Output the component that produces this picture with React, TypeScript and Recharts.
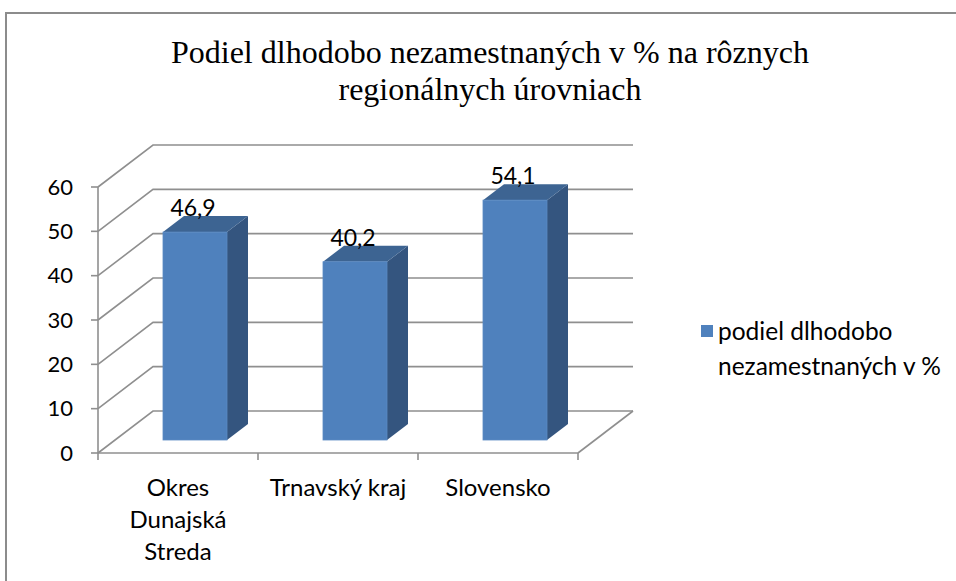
import React from 'react';
import { BarChart, Bar, XAxis, YAxis, CartesianGrid, LabelList, Legend } from 'recharts';

const categories = ['Okres Dunajská Streda', 'Trnavský kraj', 'Slovensko'];
const tickLabelLines = [['Okres', 'Dunajská', 'Streda'], ['Trnavský kraj'], ['Slovensko']];
const values = [46.9, 40.2, 54.1];
const yTicks = [0, 10, 20, 30, 40, 50, 60];
const seriesName = 'podiel dlhodobo nezamestnaných v %';
const titleLines = ['Podiel dlhodobo nezamestnaných v % na rôznych', 'regionálnych úrovniach'];

const data = categories.map((c, i) => ({ name: c, value: values[i] }));

const W = 956;
const H = 581;
const PLOT_LEFT = 98;
const PLOT_RIGHT = 578;
const PLOT_TOP = 187;
const PLOT_BOTTOM = 453;
const Y_AXIS_W = 60;
const X_AXIS_H = 110;

// oblique depth of the wall / floor
const DEPTH_X = 55;
const DEPTH_Y = 42;
// bar front offset and bar depth
const BAR_OFF_X = 17;
const BAR_OFF_Y = 13;
const BAR_D_X = 21;
const BAR_D_Y = 16;

const GRID = '#8f8f8f';
const FONT = 'Lato, "Open Sans", sans-serif';
const BLUE = '#4f81bd';

const gridLine = (props: any) => {
  const { x1, x2, y1, index } = props;
  const bx = x1 + DEPTH_X;
  const by = y1 - DEPTH_Y;
  const isFloor = Math.abs(y1 - PLOT_BOTTOM) < 1;
  return (
    <g key={`grid-${index}-${y1}`}>
      <path d={`M${x1},${y1} L${bx},${by} L${x2 + DEPTH_X},${by}`} fill="none" stroke={GRID} strokeWidth={1.6} />
      {isFloor && (
        <path d={`M${x2},${y1} L${x2 + DEPTH_X},${by}`} fill="none" stroke={GRID} strokeWidth={1.6} />
      )}
    </g>
  );
};

const Bar3D = (props: any) => {
  const { x, y, width, height } = props;
  if (width == null || height == null) return null;
  const fx = x + BAR_OFF_X;
  const fy = y - BAR_OFF_Y;
  const w = width;
  const h = height;
  return (
    <g>
      <polygon
        points={`${fx + w},${fy} ${fx + w + BAR_D_X},${fy - BAR_D_Y} ${fx + w + BAR_D_X},${fy + h - BAR_D_Y} ${fx + w},${fy + h}`}
        fill="#34557f"
      />
      <polygon
        points={`${fx},${fy} ${fx + BAR_D_X},${fy - BAR_D_Y} ${fx + w + BAR_D_X},${fy - BAR_D_Y} ${fx + w},${fy}`}
        fill="#3d6492"
      />
      <rect x={fx} y={fy} width={w} height={h} fill={BLUE} stroke="#5a8ac4" strokeWidth={0.8} />
    </g>
  );
};

const BarValue = (props: any) => {
  const { x, y, width, value } = props;
  return (
    <text
      x={x + BAR_OFF_X + width / 2 - 2}
      y={y - 29}
      textAnchor="middle"
      fontFamily={FONT}
      fontSize={23}
      fill="#000"
    >
      {String(value).replace('.', ',')}
    </text>
  );
};

const halfBand = (PLOT_RIGHT - PLOT_LEFT) / categories.length / 2;

const CategoryTick = (props: any) => {
  const { x, y, index } = props;
  const lines = tickLabelLines[index] || [];
  return (
    <g>
      <line x1={x - halfBand} y1={y} x2={x - halfBand} y2={y + 7} stroke={GRID} strokeWidth={1.6} />
      {index === categories.length - 1 && (
        <line x1={x + halfBand} y1={y} x2={x + halfBand} y2={y + 7} stroke={GRID} strokeWidth={1.6} />
      )}
      {lines.map((l, i) => (
        <text key={i} x={x} y={y + 43 + i * 32} textAnchor="middle" fontFamily={FONT} fontSize={24} fill="#000">
          {l}
        </text>
      ))}
    </g>
  );
};

const LegendContent = () => (
  <div style={{ display: 'flex', alignItems: 'flex-start', fontFamily: FONT, fontSize: 24.5, color: '#000' }}>
    <div style={{ width: 12, height: 12, background: BLUE, marginTop: 12, marginRight: 5, flex: 'none' }} />
    <div style={{ lineHeight: '35px', width: 240 }}>{seriesName}</div>
  </div>
);

export default function App() {
  return (
    <div style={{ position: 'absolute', left: 0, top: 0, width: W, height: H, overflow: 'hidden', background: '#fff' }}>
      <div
        style={{
          position: 'absolute',
          left: 5,
          top: 12,
          width: 1200,
          height: 1200,
          border: '2px solid #8c8c8c',
          boxSizing: 'border-box',
        }}
      />
      <svg width={W} height={130} style={{ position: 'absolute', left: 0, top: 0 }}>
        {titleLines.map((t, i) => (
          <text
            key={i}
            x={490}
            y={63 + i * 37}
            textAnchor="middle"
            fontFamily='"Liberation Serif", "Times New Roman", serif'
            fontSize={32}
            fill="#000"
          >
            {t}
          </text>
        ))}
      </svg>
      <div style={{ position: 'absolute', left: 0, top: 0 }}>
        <BarChart
          width={W}
          height={H}
          data={data}
          barCategoryGap="30%"
          margin={{
            top: PLOT_TOP,
            right: W - PLOT_RIGHT,
            bottom: H - PLOT_BOTTOM - X_AXIS_H,
            left: PLOT_LEFT - Y_AXIS_W,
          }}
        >
          <CartesianGrid vertical={false} horizontal={gridLine} />
          <XAxis
            dataKey="name"
            height={X_AXIS_H}
            tickLine={false}
            tickSize={0}
            tickMargin={0}
            axisLine={{ stroke: GRID, strokeWidth: 1.6 }}
            tick={CategoryTick}
            interval={0}
          />
          <YAxis
            width={Y_AXIS_W}
            domain={[0, 60]}
            ticks={yTicks}
            interval={0}
            tickSize={7}
            tickMargin={18}
            axisLine={{ stroke: GRID, strokeWidth: 1.6 }}
            tickLine={{ stroke: GRID, strokeWidth: 1.6 }}
            tick={{ fill: '#000', fontFamily: FONT, fontSize: 22 }}
          />
          <Legend
            layout="horizontal"
            verticalAlign="middle"
            align="center"
            content={LegendContent}
            wrapperStyle={{ left: 701, top: 313, width: 255 }}
          />
          <Bar dataKey="value" name={seriesName} fill={BLUE} shape={Bar3D} isAnimationActive={false}>
            <LabelList dataKey="value" content={BarValue} />
          </Bar>
        </BarChart>
      </div>
    </div>
  );
}
